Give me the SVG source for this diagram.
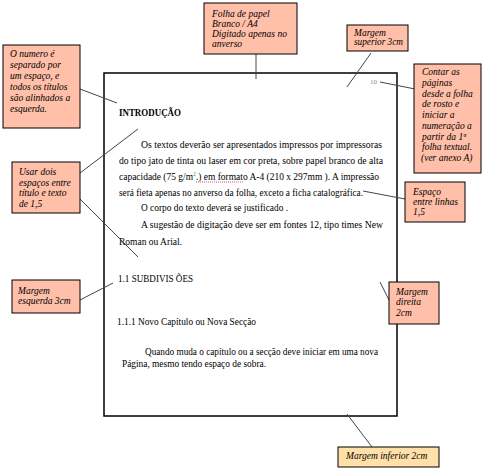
<svg xmlns="http://www.w3.org/2000/svg" width="488" height="470" viewBox="0 0 488 470">
<style>
.box{fill:#FFBFA8;stroke:#000;stroke-width:1}
.boxy{fill:#FFE0A8;stroke:#000;stroke-width:1}
.note{font-family:"Liberation Serif",serif;font-style:italic;font-size:9.5px;fill:#000}
.body{font-family:"Liberation Serif",serif;font-size:10px;fill:#000}
.conn line{stroke:#3a4656;stroke-width:1}
</style>
<rect width="488" height="470" fill="#fff"/>
<g id="page">
<rect x="104" y="73" width="293" height="343" fill="#fff" stroke="#000" stroke-width="1.5"/>
<text x="370" y="84" style="font-family:'Liberation Serif',serif;font-size:7px;fill:#888">10</text>
<text class="body" x="119" y="116" font-weight="bold" textLength="62" lengthAdjust="spacingAndGlyphs">INTRODUÇÃO</text>
<text class="body" x="141" y="148" textLength="241" lengthAdjust="spacingAndGlyphs">Os textos deverão ser apresentados impressos por impressoras</text>
<text class="body" x="119" y="164" textLength="264" lengthAdjust="spacingAndGlyphs">do tipo jato de tinta ou laser em cor preta, sobre papel branco de alta</text>
<text class="body" x="119" y="180" textLength="260" lengthAdjust="spacingAndGlyphs">capacidade (75 g/m<tspan dy="-4" style="font-size:6px;fill:#3a9a3a">2</tspan><tspan dy="4">.) em formato A-4 (210 x 297mm ). A impressão</tspan></text>
<line x1="196" y1="182" x2="244" y2="182" stroke="#c03060" stroke-width="0.8" stroke-dasharray="1,1"/>
<text class="body" x="119" y="196" textLength="244" lengthAdjust="spacingAndGlyphs">será fieta apenas no anverso da folha, exceto a ficha catalográfica.</text>
<text class="body" x="141" y="211" textLength="147" lengthAdjust="spacingAndGlyphs">O corpo do texto deverá se justificado .</text>
<text class="body" x="141" y="228" textLength="242" lengthAdjust="spacingAndGlyphs">A sugestão de digitação deve ser em fontes  12, tipo times  New</text>
<text class="body" x="119" y="245" textLength="63" lengthAdjust="spacingAndGlyphs">Roman ou Arial.</text>
<text class="body" x="118" y="282" textLength="75" lengthAdjust="spacingAndGlyphs">1.1  SUBDIVIS ÕES</text>
<text class="body" x="117" y="325" textLength="139" lengthAdjust="spacingAndGlyphs">1.1.1 Novo Capítulo ou Nova Secção</text>
<text class="body" x="145" y="355" textLength="233" lengthAdjust="spacingAndGlyphs">Quando muda o capítulo ou a secção deve iniciar em uma nova</text>
<text class="body" x="122" y="367" textLength="144" lengthAdjust="spacingAndGlyphs">Página, mesmo tendo espaço de sobra.</text>
</g>
<g id="connectors" class="conn">
<line x1="80" y1="89" x2="117" y2="103"/>
<line x1="256" y1="54" x2="256" y2="79"/>
<line x1="371" y1="53" x2="347" y2="87"/>
<line x1="380" y1="82" x2="415" y2="89"/>
<line x1="80" y1="173" x2="138" y2="129"/>
<line x1="80" y1="199" x2="138" y2="257"/>
<line x1="80" y1="300" x2="113" y2="283"/>
<line x1="363" y1="191" x2="405" y2="199"/>
<line x1="380" y1="282" x2="389" y2="300"/>
<line x1="347" y1="414" x2="372" y2="447"/>
</g>
<g id="note-numero">
<rect class="box" x="3" y="45" width="77" height="83"/>
<text class="note" x="10" y="57">O numero é</text>
<text class="note" x="10" y="68">separado por</text>
<text class="note" x="10" y="79">um espaço, e</text>
<text class="note" x="10" y="90">todos os títulos</text>
<text class="note" x="10" y="101">são alinhados a</text>
<text class="note" x="10" y="112">esquerda.</text>
</g>
<g id="note-folha">
<rect class="box" x="204" y="3" width="93" height="51"/>
<text class="note" x="212" y="17">Folha de papel</text>
<text class="note" x="212" y="27">Branco / A4</text>
<text class="note" x="212" y="37">Digitado apenas no</text>
<text class="note" x="212" y="47">anverso</text>
</g>
<g id="note-superior">
<rect class="box" x="347" y="25" width="61" height="26"/>
<text class="note" x="354" y="36">Margem</text>
<text class="note" x="354" y="45" textLength="49" lengthAdjust="spacingAndGlyphs">superior 3cm</text>
</g>
<g id="note-contar">
<rect class="box" x="414" y="64" width="67" height="109"/>
<text class="note" x="422" y="75">Contar as</text>
<text class="note" x="422" y="86">páginas</text>
<text class="note" x="422" y="96.5">desde a folha</text>
<text class="note" x="422" y="107">de rosto e</text>
<text class="note" x="422" y="118">iniciar a</text>
<text class="note" x="422" y="129">numeração a</text>
<text class="note" x="422" y="139.5">partir da 1ª</text>
<text class="note" x="422" y="150">folha textual.</text>
<text class="note" x="421" y="161">(ver anexo A)</text>
</g>
<g id="note-dois-espacos">
<rect class="box" x="12" y="162" width="68" height="51"/>
<text class="note" x="19" y="175">Usar dois</text>
<text class="note" x="19" y="186">espaços entre</text>
<text class="note" x="19" y="196">título e texto</text>
<text class="note" x="19" y="207">de 1,5</text>
</g>
<g id="note-esquerda">
<rect class="box" x="12" y="280" width="68" height="33"/>
<text class="note" x="18" y="294">Margem</text>
<text class="note" x="18" y="304">esquerda 3cm</text>
</g>
<g id="note-espaco">
<rect class="box" x="405" y="182" width="60" height="40"/>
<text class="note" x="413" y="195">Espaço</text>
<text class="note" x="413" y="205" textLength="45" lengthAdjust="spacingAndGlyphs">entre linhas</text>
<text class="note" x="413" y="215">1,5</text>
</g>
<g id="note-direita">
<rect class="box" x="389" y="282" width="50" height="42"/>
<text class="note" x="396" y="295">Margem</text>
<text class="note" x="396" y="305">direita</text>
<text class="note" x="396" y="316">2cm</text>
</g>
<g id="note-inferior">
<rect class="boxy" x="338" y="447" width="101" height="20"/>
<text class="note" x="346" y="459">Margem inferior 2cm</text>
</g>
</svg>
